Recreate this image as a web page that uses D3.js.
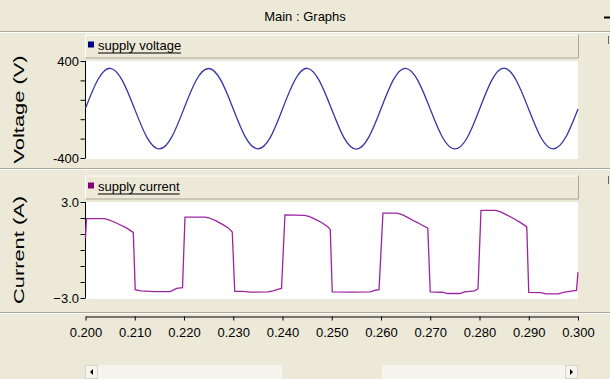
<!DOCTYPE html>
<html>
<head>
<meta charset="utf-8">
<script src="https://cdn.jsdelivr.net/npm/d3@7"></script>
<style>
  body { margin: 0; background: #ECE9D8; }
  svg { display: block; }
  .lbl { font-family: "Liberation Sans Narrow", "Liberation Sans", Arial, sans-serif; fill: #000; }
</style>
</head>
<body>
<div id="chart-wrap"></div>
<script>
var xTicks = [0.200, 0.210, 0.220, 0.230, 0.240, 0.250, 0.260, 0.270, 0.280, 0.290, 0.300];
var voltageTicks = [400, 240, 80, -80, -240, -400];
var voltageLabels = [400, -400];
var currentTicks = [3, 2, 1, 0, -1, -2, -3];
var currentLabels = [3, -3];

var vTime = [0.2000, 0.2025, 0.2050, 0.2075, 0.2100, 0.2125, 0.2150, 0.2175,
  0.2200, 0.2225, 0.2250, 0.2275, 0.2300, 0.2325, 0.2350, 0.2375,
  0.2400, 0.2425, 0.2450, 0.2475, 0.2500, 0.2525, 0.2550, 0.2575,
  0.2600, 0.2625, 0.2650, 0.2675, 0.2700, 0.2725, 0.2750, 0.2775,
  0.2800, 0.2825, 0.2850, 0.2875, 0.2900, 0.2925, 0.2950, 0.2975, 0.3000];
var vSupply = [10, 245, 340, 238, 2, -232, -325, -228,
  8, 243, 338, 240, 5, -230, -324, -232,
  4, 241, 340, 236, 0, -234, -326, -230,
  6, 244, 339, 238, 3, -231, -325, -233,
  2, 242, 341, 237, 1, -233, -324, -229, 5];

var iTime = [0.2000, 0.2002, 0.2038, 0.2046, 0.2058, 0.2070, 0.2083, 0.2097, 0.2101, 0.2112, 0.2140, 0.2172, 0.2185, 0.2197,
  0.2202, 0.2243, 0.2252, 0.2265, 0.2278, 0.2290, 0.2298, 0.2303, 0.2320, 0.2335, 0.2370, 0.2381, 0.2392, 0.2398,
  0.2405, 0.2445, 0.2455, 0.2468, 0.2480, 0.2492, 0.2497, 0.2501, 0.2540, 0.2578, 0.2590, 0.2596,
  0.2604, 0.2632, 0.2642, 0.2655, 0.2668, 0.2682, 0.2695, 0.2700, 0.2725, 0.2735, 0.2760, 0.2770, 0.2790, 0.2797,
  0.2803, 0.2833, 0.2843, 0.2858, 0.2872, 0.2885, 0.2896, 0.2900, 0.2925, 0.2935, 0.2960, 0.2970, 0.2990, 0.2997, 0.3000];
var iSupply = [0.75, 1.96, 1.96, 1.90, 1.75, 1.58, 1.38, 1.10, -2.48, -2.55, -2.60, -2.60, -2.40, -2.36,
  2.06, 2.06, 2.00, 1.82, 1.60, 1.38, 1.12, -2.59, -2.59, -2.63, -2.62, -2.55, -2.44, -2.40,
  2.20, 2.16, 2.08, 1.90, 1.70, 1.45, 1.27, -2.62, -2.63, -2.62, -2.50, -2.48,
  2.31, 2.31, 2.22, 2.02, 1.80, 1.58, 1.37, -2.62, -2.64, -2.72, -2.72, -2.62, -2.55, -2.42,
  2.48, 2.48, 2.38, 2.15, 1.92, 1.68, 1.44, -2.65, -2.66, -2.74, -2.74, -2.65, -2.55, -2.52, -1.38];

var width = 610, height = 379;
var left = 85.5, right = 578;

var svg = d3.select("#chart-wrap")
  .append("svg")
  .attr("width", width)
  .attr("height", height);

svg.append("rect").attr("width", width).attr("height", height).attr("fill", "#ECE9D8");

// title bar
svg.append("line").attr("x1", 0).attr("x2", width).attr("y1", 31.5).attr("y2", 31.5).attr("stroke", "#ACA899");
svg.append("line").attr("x1", 0).attr("x2", width).attr("y1", 32.5).attr("y2", 32.5).attr("stroke", "#fff");
svg.append("text").attr("class", "lbl")
  .attr("x", 305).attr("y", 21).attr("text-anchor", "middle")
  .attr("font-size", 13).text("Main : Graphs");
svg.append("line").attr("x1", 604).attr("x2", 610).attr("y1", 17.5).attr("y2", 17.5).attr("stroke", "#000").attr("stroke-width", 2);
svg.append("line").attr("x1", 608.5).attr("x2", 608.5).attr("y1", 36).attr("y2", 44).attr("stroke", "#666");
svg.append("line").attr("x1", 608.5).attr("x2", 608.5).attr("y1", 176).attr("y2", 184).attr("stroke", "#666");

// panel separators
[168.5, 312.5].forEach(function(y) {
  svg.append("line").attr("x1", 0).attr("x2", width).attr("y1", y).attr("y2", y).attr("stroke", "#ACA899");
  svg.append("line").attr("x1", 0).attr("x2", width).attr("y1", y + 1).attr("y2", y + 1).attr("stroke", "#fff");
});

var x = d3.scaleLinear().domain([0.2, 0.3]).range([left, right]);

function panel(opt) {
  var g = svg.append("g");

  // legend header bar
  var hb = g.append("g");
  hb.append("rect").attr("x", left).attr("y", opt.headTop).attr("width", right - left).attr("height", 23)
    .attr("fill", "#ECE9D8");
  hb.append("path").attr("fill", "none").attr("stroke", "#fff")
    .attr("d", "M" + left + "," + (opt.headTop + 23) + "V" + (opt.headTop + 0.5) + "H" + right);
  hb.append("path").attr("fill", "none").attr("stroke", "#ACA899")
    .attr("d", "M" + (right + 0.5) + "," + opt.headTop + "V" + (opt.headTop + 23.5) + "H" + left);
  hb.append("rect").attr("x", 88).attr("y", opt.headTop + 7).attr("width", 6).attr("height", 6).attr("fill", opt.color);
  var t = hb.append("text").attr("class", "lbl")
    .attr("x", 98).attr("y", opt.headTop + 15).attr("font-size", 13).text(opt.name);
  var w = t.node().getComputedTextLength();
  hb.append("line").attr("x1", 98).attr("x2", 98 + w).attr("y1", opt.headTop + 18.5).attr("y2", opt.headTop + 18.5)
    .attr("stroke", "#000").attr("stroke-width", 1.2);

  var y = d3.scaleLinear().domain(opt.domain).range([opt.bottom, opt.top]);

  g.append("rect").attr("x", left).attr("y", opt.top).attr("width", right - left).attr("height", opt.bottom - opt.top + 1)
    .attr("fill", "#fff");

  var axis = g.append("g")
    .attr("transform", "translate(" + left + ",0)")
    .call(d3.axisLeft(y).tickValues(opt.ticks).tickSize(5).tickFormat(""));
  axis.select(".domain").attr("stroke", "#000").attr("d", "M0," + opt.top + "V" + opt.bottom);
  axis.selectAll(".tick line").attr("stroke", "#000");

  g.selectAll(".ylbl")
    .data(opt.labels)
    .enter()
    .append("text")
    .attr("class", "lbl ylbl")
    .attr("x", 79)
    .attr("y", function(d) { return y(d) + 4.5; })
    .attr("text-anchor", "end")
    .attr("font-size", 13)
    .text(opt.fmt);

  g.append("text").attr("class", "lbl")
    .attr("transform", "translate(24," + ((opt.top + opt.bottom) / 2) + ") rotate(-90)")
    .attr("text-anchor", "middle")
    .attr("font-size", 15)
    .attr("font-family", "Liberation Sans, Arial, sans-serif")
    .attr("textLength", 108)
    .attr("lengthAdjust", "spacingAndGlyphs")
    .text(opt.title);

  var line = d3.line()
    .x(function(d) { return x(d[0]); })
    .y(function(d) { return y(d[1]); })
    .curve(opt.curve);

  g.append("path")
    .datum(opt.times.map(function(t, i) { return [t, opt.values[i]]; }))
    .attr("fill", "none")
    .attr("stroke", opt.lineColor)
    .attr("stroke-width", 1.3)
    .attr("d", line);
}

panel({
  name: "supply voltage", title: "Voltage (V)", color: "#000080", lineColor: "#3535a8",
  headTop: 34.5, top: 61, bottom: 158, domain: [-400, 400],
  ticks: voltageTicks, labels: voltageLabels, fmt: function(d) { return d; },
  times: vTime, values: vSupply, curve: d3.curveNatural
});

panel({
  name: "supply current", title: "Current (A)", color: "#800080", lineColor: "#9c24a0",
  headTop: 175.5, top: 202, bottom: 298, domain: [-3, 3],
  ticks: currentTicks, labels: currentLabels, fmt: d3.format(".1f"),
  times: iTime, values: iSupply, curve: d3.curveLinear
});

// x axis
var xAxis = svg.append("g")
  .attr("transform", "translate(0,316.5)")
  .call(d3.axisBottom(x).tickValues(xTicks).tickSize(4).tickSizeOuter(0).tickFormat(d3.format(".3f")));
xAxis.select(".domain").attr("stroke", "#000");
xAxis.selectAll(".tick line").attr("stroke", "#000");
xAxis.selectAll(".tick text")
  .attr("class", "lbl")
  .attr("font-size", 13)
  .attr("y", 11);
xAxis.attr("font-family", null);

// scrollbar
var sb = svg.append("g");
sb.append("rect").attr("x", 85).attr("y", 365).attr("width", 493).attr("height", 14).attr("fill", "#F5F4EF");
sb.append("rect").attr("x", 282).attr("y", 365).attr("width", 100).attr("height", 14).attr("fill", "#ECE9D8");
sb.append("rect").attr("x", 85.5).attr("y", 365.5).attr("width", 12).attr("height", 13).attr("fill", "#F5F4EF").attr("stroke", "#D8D5C8");
sb.append("rect").attr("x", 565.5).attr("y", 365.5).attr("width", 12).attr("height", 13).attr("fill", "#F5F4EF").attr("stroke", "#D8D5C8");
sb.append("path").attr("d", "M90,372l3,-3v6z").attr("fill", "#000");
sb.append("path").attr("d", "M573,372l-3,-3v6z").attr("fill", "#000");
</script>
</body>
</html>
